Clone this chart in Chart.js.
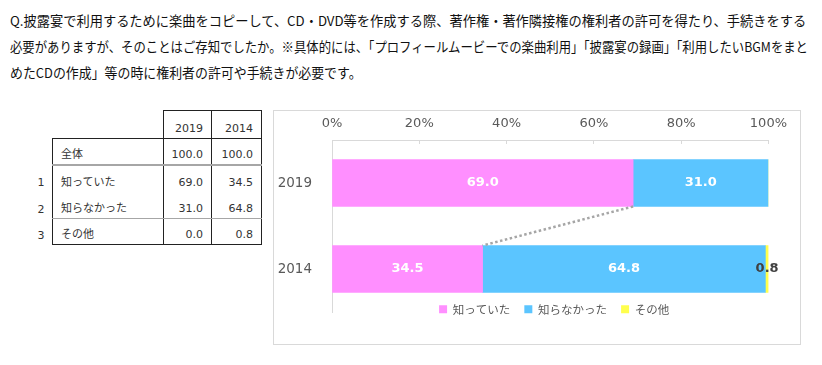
<!DOCTYPE html>
<html>
<head>
<meta charset="utf-8">
<script src="https://cdn.jsdelivr.net/npm/chart.js@4.4.1/dist/chart.umd.min.js"></script>
<style>
  body { margin: 0; background: #fff; width: 822px; height: 365px; overflow: hidden; position: relative;
         font-family: 'DejaVu Sans', 'Noto Sans CJK JP', sans-serif; }
  .q { position: absolute; left: 10px; white-space: nowrap; font-family: 'Noto Sans CJK JP', sans-serif;
       font-size: 13.5px; line-height: 18px; color: #111; transform-origin: 0 50%; }
  #tbl { position: absolute; left: 30px; top: 110px; border-collapse: collapse; font-size: 11px; color: #333; }
  #tbl td { padding: 0 0 3px 0; vertical-align: bottom; white-space: nowrap; }
  #tbl td.num { width: 22px; text-align: center; }
  #tbl td.lab { width: 102px; padding-left: 8px; font-family: 'Noto Sans CJK JP', sans-serif; }
  #tbl td.val { text-align: right; padding-right: 8px; }
  #frame { position: absolute; left: 273px; top: 110px; width: 526px; height: 233px; border: 1px solid #d9d9d9; }
  #chart { position: absolute; left: 274px; top: 111px; }
</style>
</head>
<body>
<div class="q" style="top:11px">Q.披露宴で利用するために楽曲をコピーして、CD・DVD等を作成する際、著作権・著作隣接権の権利者の許可を得たり、手続きをする</div>
<div class="q" style="top:37px">必要がありますが、そのことはご存知でしたか。※具体的には、「プロフィールムービーでの楽曲利用」「披露宴の録画」「利用したいBGMをまと</div>
<div class="q" style="top:63px">めたCDの作成」等の時に権利者の許可や手続きが必要です。</div>

<table id="tbl"></table>

<div id="frame"></div>
<canvas id="chart" width="526" height="233"></canvas>

<script>
// data
const years = ['2019', '2014'];
const knew = [69.0, 34.5];
const didNotKnow = [31.0, 64.8];
const other = [0.0, 0.8];
const totals = [100.0, 100.0];
const seriesNames = ['知っていた', '知らなかった', 'その他'];
const seriesColors = ['#FF8FFF', '#5BC5FF', '#FFFF4D'];
const rowNames = ['全体', '知っていた', '知らなかった', 'その他'];

// fit the question lines to the widths in the picture
const titleWidths = [796, 798, 352];
document.querySelectorAll('.q').forEach((el, i) => {
  el.style.transform = 'scaleX(' + (titleWidths[i] / el.scrollWidth) + ')';
});

// table on the left
function buildTable() {
  const tbl = document.getElementById('tbl');
  const rows = [
    { n: '', name: '', vals: years, h: 28 },
    { n: '', name: rowNames[0], vals: totals.map(v => v.toFixed(1)), h: 26 },
    { n: '1', name: rowNames[1], vals: knew.map(v => v.toFixed(1)), h: 27 },
    { n: '2', name: rowNames[2], vals: didNotKnow.map(v => v.toFixed(1)), h: 27 },
    { n: '3', name: rowNames[3], vals: other.map(v => v.toFixed(1)), h: 26 }
  ];
  const black = '1px solid #222';
  rows.forEach((r, i) => {
    const tr = document.createElement('tr');
    tr.style.height = r.h + 'px';
    let html = '<td class="num">' + r.n + '</td>';
    let labStyle = '';
    if (i > 0) labStyle += 'border-left:' + black + ';';
    if (i === 1) labStyle += 'border-top:' + black + ';';
    let rowBottom = '';
    if (i === 1) rowBottom = 'border-bottom:2px solid #a6a6a6;';
    if (i === 3) rowBottom = 'border-bottom:1px solid #a6a6a6;';
    if (i === 4) rowBottom = 'border-bottom:' + black + ';';
    html += '<td class="lab" style="' + labStyle + rowBottom + '">' + r.name + '</td>';
    r.vals.forEach((v, k) => {
      let s = 'border-left:' + black + ';border-right:' + black + ';' + rowBottom;
      if (i === 0) s += 'border-top:' + black + ';border-bottom:' + black + ';';
      if (i === 1) s += 'border-top:' + black + ';';
      s += k === 0 ? 'width:39px;' : 'width:41px;';
      html += '<td class="val" style="' + s + '">' + v + '</td>';
    });
    tr.innerHTML = html;
    tbl.appendChild(tr);
  });
}
buildTable();

Chart.defaults.font.family = "'DejaVu Sans', 'Noto Sans CJK JP', sans-serif";
Chart.defaults.color = '#595959';

// legend sits right under the plot, centred on it (like the Excel original)
const legendPlace = {
  id: 'legendPlace',
  beforeInit(chart) {
    const fit = chart.legend.fit;
    chart.legend.fit = function () { fit.call(this); this.height = 20; };
  },
  afterLayout(chart) {
    const lg = chart.legend, a = chart.chartArea;
    const pad = lg.options.labels.padding;
    lg.left = a.left + 8; lg.right = a.right; lg.width = lg.right - lg.left;
    lg.top = a.bottom - 2 - pad - 6.5;
    lg.bottom = lg.top + 40; lg.height = 40;
  }
};

// value labels inside the bars and the dotted connector
const barLabels = {
  id: 'barLabels',
  afterDatasetsDraw(chart) {
    const ctx = chart.ctx;
    ctx.save();
    const a = chart.getDatasetMeta(0).data[0];
    const b = chart.getDatasetMeta(0).data[1];
    ctx.strokeStyle = '#a6a6a6';
    ctx.lineWidth = 2.5;
    ctx.setLineDash([2.5, 2.5]);
    ctx.beginPath();
    ctx.moveTo(a.x, a.y + a.height / 2);
    ctx.lineTo(b.x, b.y - b.height / 2);
    ctx.stroke();
    ctx.setLineDash([]);

    ctx.font = 'bold 13px "DejaVu Sans"';
    ctx.textAlign = 'center';
    ctx.textBaseline = 'middle';
    chart.data.datasets.forEach((ds, i) => {
      chart.getDatasetMeta(i).data.forEach((bar, j) => {
        const v = ds.data[j];
        if (!v) return;
        ctx.fillStyle = v < 5 ? '#404040' : '#ffffff';
        ctx.fillText(v.toFixed(1), (bar.x + bar.base) / 2, bar.y);
      });
    });
    ctx.restore();
  }
};

new Chart(document.getElementById('chart'), {
  type: 'bar',
  data: {
    labels: years,
    datasets: [
      { label: seriesNames[0], data: knew, backgroundColor: seriesColors[0] },
      { label: seriesNames[1], data: didNotKnow, backgroundColor: seriesColors[1] },
      { label: seriesNames[2], data: other, backgroundColor: seriesColors[2] }
    ]
  },
  options: {
    indexAxis: 'y',
    responsive: false,
    animation: false,
    barThickness: 47,
    layout: { padding: { left: 0, right: 31, top: 0, bottom: 12 } },
    scales: {
      x: {
        position: 'top',
        stacked: true,
        min: 0,
        max: 100,
        afterFit(s) { s.height = 29; },
        ticks: { stepSize: 20, padding: 13, font: { size: 13 }, color: '#595959',
                 callback: v => v + '%' },
        grid: { drawOnChartArea: false, drawTicks: true, tickLength: -4, color: '#d9d9d9' },
        border: { display: true, color: '#d9d9d9' }
      },
      y: {
        stacked: true,
        afterFit(s) { s.width = 58; },
        ticks: { padding: 12, font: { size: 13.5 }, color: '#595959' },
        grid: { display: false },
        border: { display: true, color: '#d9d9d9' }
      }
    },
    plugins: {
      legend: {
        position: 'bottom',
        labels: { boxWidth: 8, boxHeight: 8, padding: 14, color: '#595959',
                  font: { size: 11.5, family: "'Noto Sans CJK JP', sans-serif" } }
      },
      tooltip: { enabled: false }
    }
  },
  plugins: [legendPlace, barLabels]
});
</script>
</body>
</html>
